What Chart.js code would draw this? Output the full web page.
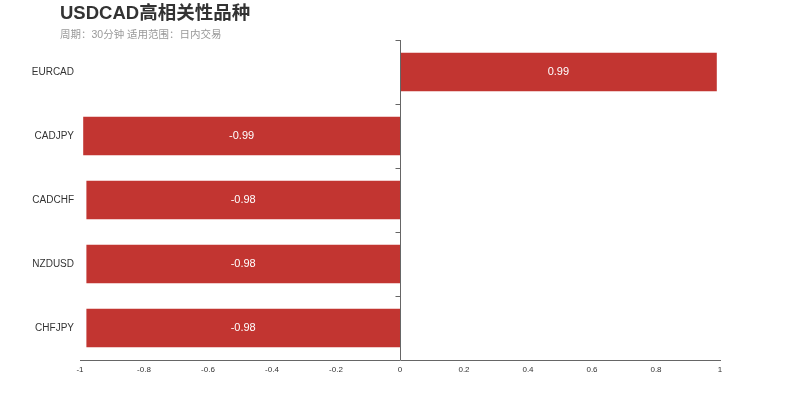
<!DOCTYPE html>
<html>
<head>
<meta charset="utf-8">
<script src="https://cdn.jsdelivr.net/npm/chart.js@4/dist/chart.umd.min.js"></script>
<style>
  body { margin: 0; background: #fff; font-family: "Liberation Sans", Arial, "Noto Sans CJK SC", sans-serif; }
  #wrap { position: relative; width: 800px; height: 400px; }
  #title { position: absolute; left: 60px; top: 1px; font-size: 18.5px; font-weight: bold; color: #333; line-height: 24px; }
  #subtitle { position: absolute; left: 60px; top: 26px; font-size: 10.5px; color: #999; line-height: 16px; }
</style>
</head>
<body>
<div id="wrap">
  <canvas id="chart" width="800" height="400"></canvas>
  <div id="title">USDCAD高相关性品种</div>
  <div id="subtitle">周期：30分钟 适用范围：日内交易</div>
</div>
<script>
// pares y su correlación con USDCAD
const symbols = ["EURCAD", "CADJPY", "CADCHF", "NZDUSD", "CHFJPY"];
const correlations = [0.99, -0.99, -0.98, -0.98, -0.98];
const xTicks = [-1, -0.8, -0.6, -0.4, -0.2, 0, 0.2, 0.4, 0.6, 0.8, 1];

const FONT = '"Liberation Sans", Arial, sans-serif';

// eje vertical en x=0 con marcas entre categorías
const zeroAxis = {
  id: "zeroAxis",
  afterDatasetsDraw(chart) {
    const { ctx, chartArea, scales } = chart;
    const x0 = Math.round(scales.x.getPixelForValue(0)) + 0.5;
    ctx.save();
    ctx.strokeStyle = "#666";
    ctx.lineWidth = 1;
    ctx.beginPath();
    ctx.moveTo(x0, chartArea.top);
    ctx.lineTo(x0, chartArea.bottom);
    const step = (chartArea.bottom - chartArea.top) / symbols.length;
    for (let i = 0; i < symbols.length; i++) {
      const y = Math.round(chartArea.top + i * step) + 0.5;
      ctx.moveTo(x0 - 5, y);
      ctx.lineTo(x0, y);
    }
    ctx.stroke();
    ctx.restore();
  },
};

// etiquetas de valor dentro de cada barra
const barLabels = {
  id: "barLabels",
  afterDatasetsDraw(chart) {
    const { ctx } = chart;
    const meta = chart.getDatasetMeta(0);
    ctx.save();
    ctx.fillStyle = "#fff";
    ctx.font = "11px " + FONT;
    ctx.textAlign = "center";
    ctx.textBaseline = "middle";
    meta.data.forEach((bar, i) => {
      const cx = (bar.x + bar.base) / 2;
      ctx.fillText(String(correlations[i]), cx, bar.y);
    });
    ctx.restore();
  },
};

new Chart(document.getElementById("chart"), {
  type: "bar",
  data: {
    labels: symbols,
    datasets: [
      {
        data: correlations,
        backgroundColor: "#c23531",
        borderWidth: 0,
        barPercentage: 0.6,
        categoryPercentage: 1,
      },
    ],
  },
  options: {
    indexAxis: "y",
    responsive: false,
    animation: false,
    layout: { padding: { top: 40, right: 80, left: 0, bottom: 0 } },
    plugins: {
      legend: { display: false },
      tooltip: { enabled: false },
    },
    scales: {
      x: {
        min: -1,
        max: 1,
        afterBuildTicks: (scale) => {
          scale.ticks = xTicks.map((v) => ({ value: v }));
        },
        afterFit: (scale) => {
          scale.height = 40;
        },
        grid: { display: false, drawTicks: false },
        border: { display: true, color: "#666" },
        ticks: {
          padding: 5,
          color: "#333",
          font: { size: 8, family: FONT },
          maxRotation: 0,
          callback: (v) => String(Math.round(v * 10) / 10),
        },
      },
      y: {
        afterFit: (scale) => {
          scale.width = 80;
        },
        grid: { display: false, drawTicks: false },
        border: { display: false },
        ticks: {
          padding: 6,
          color: "#333",
          font: { size: 10, family: FONT },
        },
      },
    },
  },
  plugins: [zeroAxis, barLabels],
});
</script>
</body>
</html>
